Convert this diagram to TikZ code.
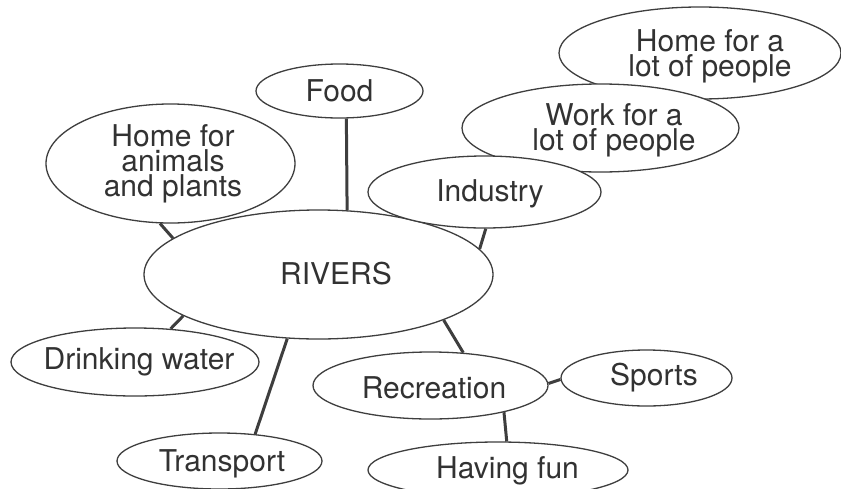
\documentclass[tikz,border=0pt]{standalone}
\usepackage{fontspec}
\setmainfont{TeX Gyre Heros}
\usetikzlibrary{shapes.geometric}
\definecolor{linegray}{RGB}{62,62,62}
\definecolor{textgray}{RGB}{50,50,50}
\begin{document}
\begin{tikzpicture}[x=1pt,y=-1pt,
  ell/.style={ellipse, draw=linegray, line width=1.3pt, fill=white, inner sep=0pt},
  conn/.style={draw=linegray, line width=3pt},
  lbl/.style={font=\fontsize{30}{25}\selectfont, text=textgray, align=center, inner sep=0pt}]
\useasboundingbox (0,0) rectangle (841,488);
% nodes
\node[ell, minimum width=349pt, minimum height=129pt,
  label={[lbl, xshift=17.5pt, yshift=1pt]center:RIVERS}] (rivers) at (318.5,274.5) {};
\node[ell, minimum width=167pt, minimum height=54pt,
  label={[lbl]center:Food}] (food) at (339.5,91) {};
\node[ell, minimum width=249pt, minimum height=119pt,
  label={[lbl, xshift=2.5pt]center:{Home for\\animals\\and plants}}] (homeanimals) at (170.5,163.5) {};
\node[ell, minimum width=282pt, minimum height=92pt,
  label={[lbl, xshift=10pt, yshift=-3pt]center:{Home for a\\lot of people}}] (homepeople) at (700,53) {};
\node[ell, minimum width=277pt, minimum height=88pt,
  label={[lbl, xshift=13.5pt, yshift=-2pt]center:{Work for a\\lot of people}}] (work) at (600.5,128) {};
\node[ell, minimum width=233pt, minimum height=72pt,
  label={[lbl, xshift=5.5pt, yshift=-1.5pt]center:Industry}] (industry) at (484.5,192) {};
\node[ell, minimum width=248pt, minimum height=68pt,
  label={[lbl, xshift=4pt]center:Drinking water}] (drinking) at (135,362) {};
\node[ell, minimum width=205pt, minimum height=56pt,
  label={[lbl, xshift=2.5pt, yshift=-2.5pt]center:Transport}] (transport) at (219.5,461) {};
\node[ell, minimum width=235pt, minimum height=67pt,
  label={[lbl, xshift=3.5pt, yshift=-2.5pt]center:Recreation}] (recreation) at (430.5,385.5) {};
\node[ell, minimum width=171pt, minimum height=56pt,
  label={[lbl, xshift=7.5pt]center:Sports}] (sports) at (646.5,378) {};
\node[ell, minimum width=260pt, minimum height=56pt,
  label={[lbl, xshift=9.5pt, yshift=-0.5pt]center:Having fun}] (havingfun) at (498,470) {};
% connectors
\draw[conn] (food.-76.4) -- (rivers.66.6);
\draw[conn] (homeanimals.-100.2) -- (rivers.166.7);
\draw[conn] (industry.-88) -- (rivers.9.8);
\draw[conn] (drinking.43) -- (rivers.-163.7);
\draw[conn] (transport.37.4) -- (rivers.-116.4);
\draw[conn] (recreation.45.7) -- (rivers.-20.4);
\draw[conn] (recreation.1.7) -- (sports.181.3);
\draw[conn] (recreation.-20.2) -- (havingfun.73);
\end{tikzpicture}
\end{document}
